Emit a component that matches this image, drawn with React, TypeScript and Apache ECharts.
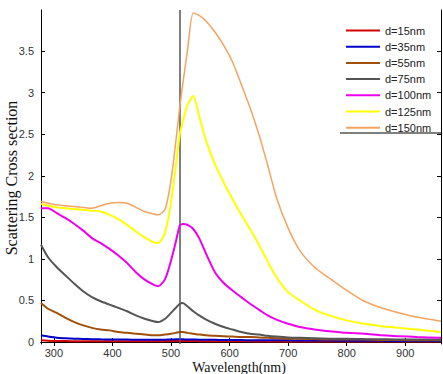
import React, { useEffect, useRef } from "react";
import * as echarts from "echarts";

const wavelengths = [278, 290, 305, 320, 335, 350, 365, 380, 395, 410, 425, 440, 455, 470, 478, 490, 500, 508, 515, 520, 528, 538, 548, 560, 575, 590, 605, 620, 635, 650, 665, 680, 700, 720, 745, 770, 800, 830, 860, 890, 920, 961];

const d15 = [0.02, 0.015, 0.012, 0.011, 0.01, 0.01, 0.01, 0.01, 0.01, 0.01, 0.01, 0.01, 0.01, 0.01, 0.01, 0.01, 0.011, 0.012, 0.013, 0.013, 0.012, 0.011, 0.01, 0.01, 0.009, 0.009, 0.008, 0.008, 0.008, 0.007, 0.007, 0.007, 0.006, 0.006, 0.006, 0.006, 0.005, 0.005, 0.005, 0.005, 0.005, 0.005];
const d35 = [0.08, 0.065, 0.05, 0.045, 0.04, 0.036, 0.034, 0.032, 0.031, 0.03, 0.029, 0.028, 0.027, 0.027, 0.027, 0.028, 0.03, 0.032, 0.033, 0.032, 0.031, 0.03, 0.028, 0.027, 0.026, 0.025, 0.024, 0.023, 0.022, 0.022, 0.021, 0.02, 0.02, 0.019, 0.018, 0.017, 0.016, 0.015, 0.014, 0.013, 0.012, 0.011];
const d55 = [0.47, 0.4, 0.35, 0.29, 0.24, 0.2, 0.17, 0.15, 0.14, 0.12, 0.11, 0.1, 0.09, 0.08, 0.08, 0.09, 0.1, 0.11, 0.12, 0.12, 0.11, 0.1, 0.09, 0.08, 0.075, 0.07, 0.065, 0.06, 0.06, 0.055, 0.05, 0.045, 0.04, 0.04, 0.035, 0.03, 0.03, 0.03, 0.025, 0.025, 0.02, 0.02];
const d75 = [1.17, 1.02, 0.9, 0.8, 0.7, 0.61, 0.54, 0.49, 0.45, 0.41, 0.37, 0.32, 0.28, 0.25, 0.24, 0.28, 0.35, 0.41, 0.46, 0.47, 0.43, 0.37, 0.32, 0.27, 0.22, 0.18, 0.15, 0.12, 0.1, 0.09, 0.075, 0.065, 0.055, 0.05, 0.045, 0.04, 0.038, 0.035, 0.033, 0.03, 0.03, 0.03];
const d100 = [1.61, 1.61, 1.55, 1.49, 1.42, 1.34, 1.25, 1.19, 1.12, 1.04, 0.95, 0.84, 0.75, 0.69, 0.67, 0.76, 0.98, 1.2, 1.4, 1.42, 1.41, 1.36, 1.25, 1.06, 0.84, 0.71, 0.62, 0.54, 0.46, 0.39, 0.32, 0.27, 0.22, 0.18, 0.15, 0.13, 0.11, 0.1, 0.08, 0.07, 0.06, 0.05];
const d125 = [1.66, 1.64, 1.62, 1.61, 1.6, 1.59, 1.58, 1.57, 1.53, 1.48, 1.41, 1.33, 1.26, 1.2, 1.19, 1.32, 1.68, 2.1, 2.5, 2.65, 2.85, 2.96, 2.72, 2.42, 2.14, 1.92, 1.72, 1.53, 1.36, 1.17, 0.97, 0.78, 0.6, 0.5, 0.39, 0.32, 0.26, 0.22, 0.19, 0.17, 0.15, 0.12];
const d150 = [1.69, 1.67, 1.65, 1.64, 1.63, 1.62, 1.61, 1.64, 1.67, 1.68, 1.67, 1.62, 1.57, 1.54, 1.53, 1.6, 1.95, 2.4, 2.83, 3.1, 3.5, 3.96, 3.93, 3.86, 3.73, 3.57, 3.37, 3.1, 2.82, 2.5, 2.13, 1.74, 1.37, 1.1, 0.9, 0.77, 0.62, 0.49, 0.41, 0.35, 0.3, 0.25];

const seriesNames = ["d=15nm", "d=35nm", "d=55nm", "d=75nm", "d=100nm", "d=125nm", "d=150nm"];
const seriesValues = [d15, d35, d55, d75, d100, d125, d150];
const seriesColors = ["#d40000", "#0000c8", "#a0500a", "#555555", "#ee00ee", "#ffff00", "#f4a460"];
const seriesWidths = [2, 2, 2, 2, 2, 2, 1.5];

const xTicks = [300, 400, 500, 600, 700, 800, 900];
const yTicks = [0, 0.5, 1, 1.5, 2, 2.5, 3, 3.5];
const markerWavelength = 515;

export default function App() {
  const ref = useRef<HTMLDivElement>(null);
  useEffect(() => {
    if (!ref.current) return;
    const chart = echarts.init(ref.current, null, { renderer: "svg" });
    const xMin = 278, xMax = 961, yMin = -0.024, yMax = 3.995;
    const tickFont = { fontFamily: "Liberation Sans", fontSize: 11, color: "#333" };
    const series: any[] = seriesNames.map((name, i) => ({
      name,
      type: "line",
      xAxisIndex: 0,
      yAxisIndex: 0,
      data: wavelengths.map((w, j) => [w, seriesValues[i][j]]),
      showSymbol: false,
      symbol: "none",
      smooth: 0.25,
      lineStyle: { color: seriesColors[i], width: seriesWidths[i] },
      itemStyle: { color: seriesColors[i] },
      z: 2 + i,
    }));
    series[0].markLine = {
      silent: true,
      symbol: "none",
      label: { show: false },
      lineStyle: { color: "#555", width: 1.5, type: "solid" },
      data: [{ xAxis: markerWavelength }],
    };
    chart.setOption({
      animation: false,
      backgroundColor: "#fff",
      grid: { left: 41, right: 2, top: 10, bottom: 30 },
      xAxis: [
        {
          type: "value", min: xMin, max: xMax, position: "bottom",
          axisLine: { show: true, lineStyle: { color: "#000", width: 1 } },
          axisTick: { show: true, inside: true, length: 4, customValues: xTicks, lineStyle: { color: "#000" } },
          axisLabel: { show: true, customValues: xTicks, margin: 3, ...tickFont },
          splitLine: { show: false },
        },
        {
          type: "value", min: xMin, max: xMax, position: "top",
          axisLine: { show: true, lineStyle: { color: "#000", width: 1 } },
          axisTick: { show: true, inside: true, length: 4, customValues: xTicks, lineStyle: { color: "#000" } },
          axisLabel: { show: false },
          splitLine: { show: false },
        },
      ],
      yAxis: [
        {
          type: "value", min: yMin, max: yMax, position: "left",
          axisLine: { show: true, lineStyle: { color: "#000", width: 1 } },
          axisTick: { show: true, inside: true, length: 4, customValues: yTicks, lineStyle: { color: "#000" } },
          axisLabel: { show: true, customValues: yTicks, margin: 7, ...tickFont },
          splitLine: { show: false },
        },
        {
          type: "value", min: yMin, max: yMax, position: "right",
          axisLine: { show: true, lineStyle: { color: "#000", width: 1 } },
          axisTick: { show: true, inside: true, length: 4, customValues: yTicks, lineStyle: { color: "#000" } },
          axisLabel: { show: false },
          splitLine: { show: false },
        },
      ],
      legend: {
        show: true,
        orient: "vertical",
        left: 341,
        top: 19,
        itemWidth: 34,
        itemHeight: 2,
        itemGap: 3.2,
        icon: "rect",
        textStyle: { fontFamily: "Liberation Sans", fontSize: 11, color: "#222", lineHeight: 13 },
        data: seriesNames.map((name, i) => ({ name, icon: "rect", itemStyle: { color: seriesColors[i] } })),
      },
      graphic: [
        {
          type: "line",
          shape: { x1: 340, y1: 133, x2: 441, y2: 133 },
          style: { stroke: "#000", lineWidth: 1 },
        },
        {
          type: "text",
          x: 11,
          y: 178,
          rotation: Math.PI / 2,
          style: {
            text: "Scattering Cross section",
            font: "16px 'Liberation Serif'",
            fill: "#111",
            textAlign: "center",
            textVerticalAlign: "middle",
          },
        },
        {
          type: "text",
          x: 239,
          y: 360,
          style: {
            text: "Wavelength(nm)",
            font: "14px 'Liberation Serif'",
            fill: "#111",
            textAlign: "center",
            textVerticalAlign: "top",
          },
        },
      ],
      series,
    });
    return () => chart.dispose();
  }, []);
  return <div ref={ref} style={{ width: 443, height: 374, position: "absolute", left: 0, top: 0 }} />;
}
